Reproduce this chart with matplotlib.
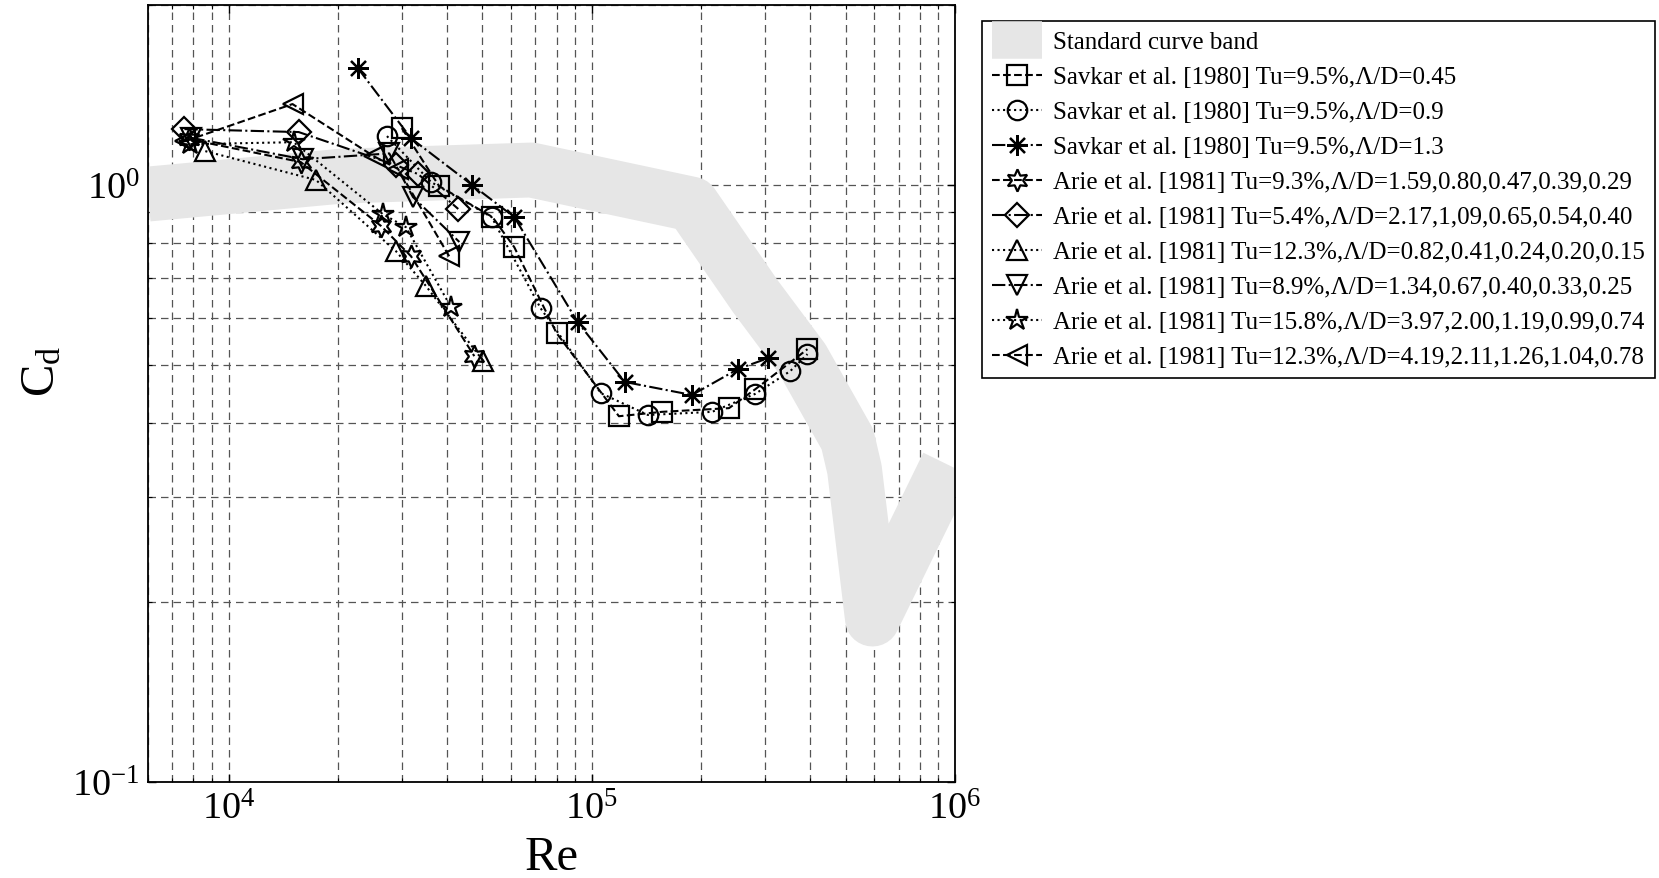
import numpy as np
import matplotlib
matplotlib.use('Agg')
from matplotlib import pyplot as plt
from matplotlib.lines import Line2D
from matplotlib.ticker import LogLocator, NullFormatter

plt.rcParams['font.family'] = ['Liberation Serif', 'DejaVu Serif']
plt.rcParams['mathtext.default'] = 'regular'

# Standard curve band (centre line of the thick grey band)
re_band = [6000, 20400, 68200, 188800, 281800, 380000, 506000, 529000, 593000, 957000]
cd_band = [0.966, 1.035, 1.06, 0.929, 0.652, 0.511, 0.375, 0.334, 0.1875, 0.340]

# Savkar et al. [1980]
re_sav045 = [30000, 38000, 53300, 61200, 80000, 118800, 156000, 238700, 282000, 392600]
cd_sav045 = [1.246, 0.996, 0.884, 0.787, 0.565, 0.410, 0.417, 0.423, 0.455, 0.531]
re_sav09 = [27300, 36100, 53000, 72300, 106000, 142800, 214500, 282000, 352000, 392600]
cd_sav09 = [1.208, 1.012, 0.884, 0.622, 0.448, 0.412, 0.417, 0.447, 0.488, 0.521]
re_sav13 = [22700, 31800, 46900, 61200, 91400, 123300, 188800, 252900, 306000]
cd_sav13 = [1.57, 1.198, 1.0, 0.884, 0.590, 0.468, 0.445, 0.492, 0.513]

# Arie et al. [1981]
re_a93 = [7760, 15800, 26300, 31800, 47500]
cd_a93 = [1.194, 1.093, 0.854, 0.760, 0.517]
re_a54 = [7560, 15600, 28900, 33300, 42900]
cd_a54 = [1.241, 1.227, 1.080, 1.043, 0.912]
re_a123 = [8630, 17400, 28900, 35000, 50300]
cd_a123 = [1.14, 1.02, 0.775, 0.677, 0.507]
re_a89 = [7900, 16000, 27700, 32200, 43200]
cd_a89 = [1.20, 1.105, 1.13, 0.955, 0.803]
re_a158 = [7850, 15100, 26600, 30800, 41000]
cd_a158 = [1.171, 1.18, 0.894, 0.85, 0.624]
re_a123b = [7600, 15000, 25100, 29300, 40500]
cd_a123b = [1.185, 1.367, 1.118, 1.064, 0.760]

labels = ['Standard curve band',
          'Savkar et al. [1980] Tu=9.5%,Λ/D=0.45',
          'Savkar et al. [1980] Tu=9.5%,Λ/D=0.9',
          'Savkar et al. [1980] Tu=9.5%,Λ/D=1.3',
          'Arie et al. [1981] Tu=9.3%,Λ/D=1.59,0.80,0.47,0.39,0.29',
          'Arie et al. [1981] Tu=5.4%,Λ/D=2.17,1,09,0.65,0.54,0.40',
          'Arie et al. [1981] Tu=12.3%,Λ/D=0.82,0.41,0.24,0.20,0.15',
          'Arie et al. [1981] Tu=8.9%,Λ/D=1.34,0.67,0.40,0.33,0.25',
          'Arie et al. [1981] Tu=15.8%,Λ/D=3.97,2.00,1.19,0.99,0.74',
          'Arie et al. [1981] Tu=12.3%,Λ/D=4.19,2.11,1.26,1.04,0.78']

band_color = '#e6e6e6'

fig = plt.figure(figsize=(16.59, 8.79), dpi=100)
ax = fig.add_axes([0.0892, 0.1092, 0.4864, 0.8835])
ax.set_xscale('log')
ax.set_yscale('log')

ax.plot(re_band, cd_band, color=band_color, lw=39.5,
        solid_capstyle='butt', solid_joinstyle='round', zorder=1)

series = [
    (re_sav045, cd_sav045, 's', '--', 14),
    (re_sav09, cd_sav09, 'o', ':', 14),
    (re_sav13, cd_sav13, (8, 2, 0), '-.', 15),
    (re_a93, cd_a93, (6, 1, 0), '--', 16),
    (re_a54, cd_a54, 'D', '-.', 12),
    (re_a123, cd_a123, '^', ':', 15),
    (re_a89, cd_a89, 'v', '-.', 15),
    (re_a158, cd_a158, '*', ':', 16),
    (re_a123b, cd_a123b, '<', '--', 15),
]

handles = [Line2D([], [], color=band_color, lw=27, solid_capstyle='butt')]
for x, y, m, ls, ms in series:
    h, = ax.plot(x, y, color='black', ls=ls, lw=1.5, marker=m, ms=ms,
                 mfc='none', mec='black', mew=1.6, zorder=3)
    handles.append(h)

ax.set_xlim(6000, 1e6)
ax.set_ylim(0.1, 2)

ax.xaxis.set_minor_locator(LogLocator(base=10, subs=np.arange(2, 10)))
ax.yaxis.set_minor_locator(LogLocator(base=10, subs=np.arange(2, 10)))
ax.xaxis.set_minor_formatter(NullFormatter())
ax.yaxis.set_minor_formatter(NullFormatter())

ax.set_axisbelow(True)
ax.grid(True, which='both', color='#555555', lw=0.9, dashes=(6, 4), zorder=0)

ax.tick_params(which='both', direction='in', labelsize=27.5, top=True, right=True)
ax.tick_params(which='major', length=6, width=1)
ax.tick_params(which='minor', length=3, width=0.8)
ax.tick_params(axis='x', pad=7)
ax.tick_params(axis='y', pad=6)
for sp in ax.spines.values():
    sp.set_linewidth(1.3)

ax.set_xlabel('Re', fontsize=35, labelpad=6)
ax.set_ylabel('$C_d$', fontsize=35)
ax.yaxis.set_label_coords(-0.104, 0.53)

leg = fig.legend(handles, labels, loc='upper left', bbox_to_anchor=(0.592, 0.975),
                 fontsize=18, frameon=True, fancybox=False, framealpha=1,
                 edgecolor='black', borderpad=0.4, labelspacing=0.5,
                 handlelength=2.0, handletextpad=0.45, borderaxespad=0)
leg.get_frame().set_linewidth(1.2)

fig.savefig('out.png', dpi=100)
